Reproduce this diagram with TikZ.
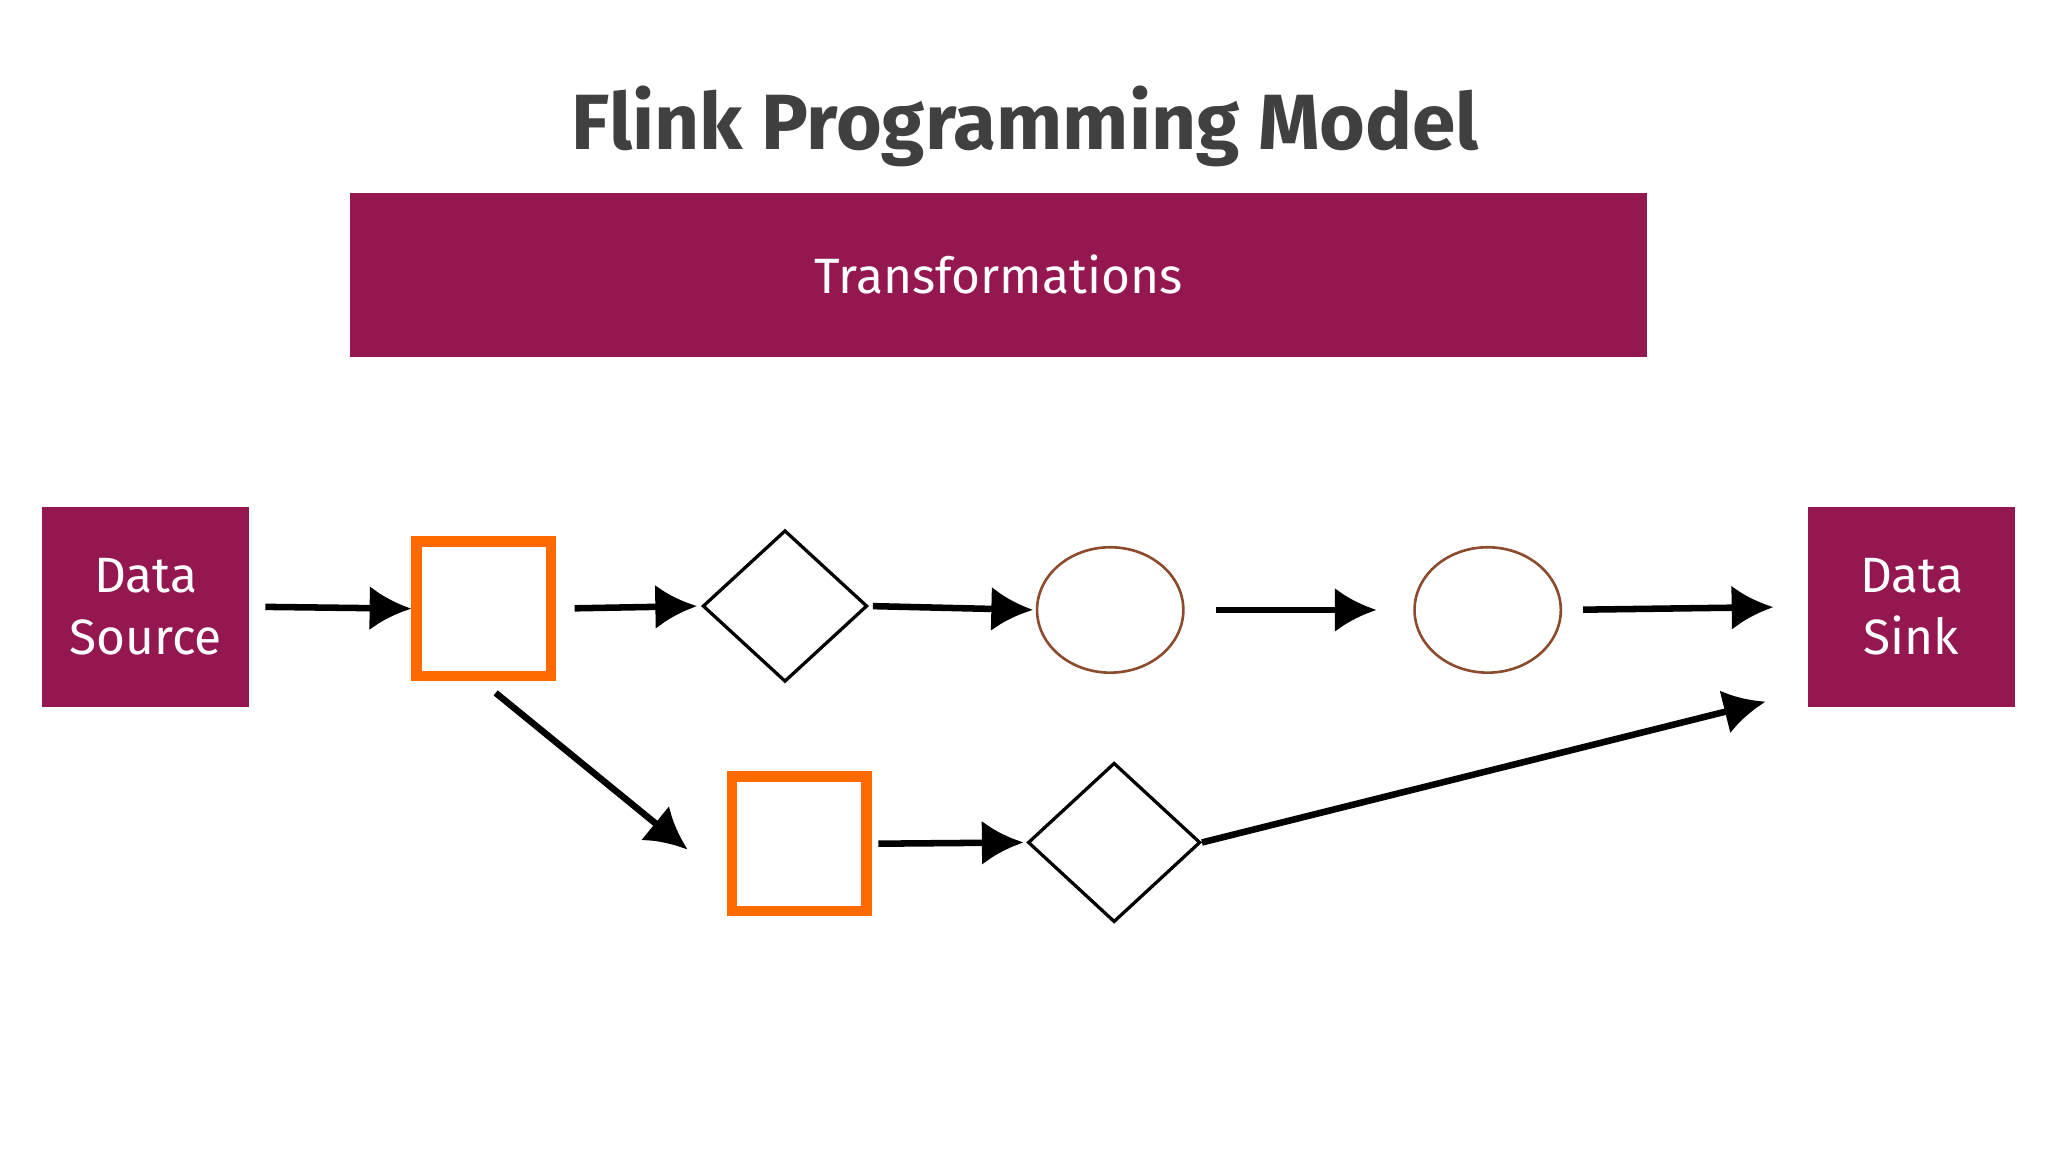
\documentclass[tikz,border=0pt]{standalone}
\usepackage{fontspec}
\setmainfont{Fira Sans}
\usetikzlibrary{shapes.geometric,arrows.meta,calc}
\definecolor{plum}{RGB}{149,23,79}
\definecolor{orng}{RGB}{255,106,0}
\definecolor{brwn}{RGB}{140,75,45}
\definecolor{ttl}{RGB}{64,64,64}
\begin{document}
\begin{tikzpicture}[x=1pt,y=-1pt,
  box/.style={fill=plum,draw=none,text=white,minimum width=159pt,minimum height=153pt,inner sep=0pt,align=center,font=\fontsize{38}{48}\selectfont},
  sq/.style={draw=orng,line width=8pt,minimum size=103pt,inner sep=0pt},
  dia/.style={diamond,draw=black,line width=2.5pt,inner sep=0pt},
  ell/.style={ellipse,draw=brwn,line width=2pt,minimum width=112pt,minimum height=96pt,inner sep=0pt},
  arr/.style={line width=5pt,-{Latex[length=32pt,width=34pt]}}]
\useasboundingbox (0,0) rectangle (1568,882);
\node[font=\fontsize{60}{70}\selectfont\bfseries,text=ttl] (title) at (785,97) {Flink Programming Model};
\node[fill=plum,minimum width=993pt,minimum height=125pt,inner sep=0pt,text=white,font=\fontsize{38}{46}\selectfont] (tr) at (764.5,210.5) {Transformations};
\node[box] (src) at (111.5,464.5) {Data\\Source};
\node[box] (snk) at (1463.5,464.5) {Data\\Sink};
\node[sq] (sq1) at (370.5,466) {};
\node[dia,minimum width=126pt,minimum height=116pt] (d1) at (601,464) {};
\node[ell] (e1) at (850,467) {};
\node[ell] (e2) at (1139,467) {};
\node[sq] (sq2) at (612,646) {};
\node[dia,minimum width=132pt,minimum height=122pt] (d2) at (853,645) {};
\draw[arr,shorten <=12pt] (src.east) -- (sq1.west);
\draw[arr,shorten <=14pt,shorten >=3pt] (sq1.east) -- (d1.west);
\draw[arr,shorten <=3pt,shorten >=2pt] (d1.east) -- (e1.west);
\draw[arr,shorten <=24pt,shorten >=28pt] (e1.east) -- (e2.west);
\draw[arr,shorten <=16pt,shorten >=26pt] (e2.east) -- (snk.west);
\draw[arr] ($(sq1.south)+(9,9)$) -- ($(sq2.north west)+(-30,60)$);
\draw[arr,shorten <=5pt,shorten >=2pt] (sq2.east) -- (d2.west);
\draw[arr] (d2.east) -- ($(snk.south west)+(-32,-4)$);
\end{tikzpicture}
\end{document}
